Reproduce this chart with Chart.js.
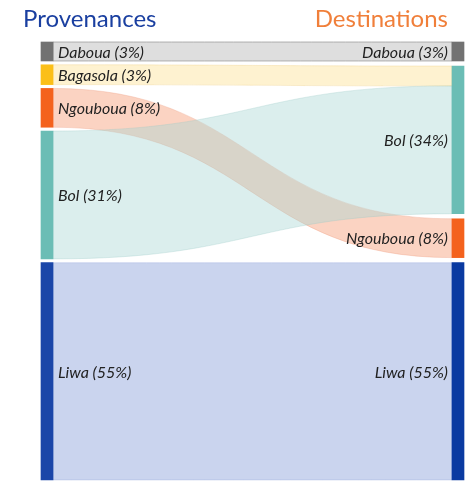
<!DOCTYPE html>
<html>
<head>
<meta charset="utf-8">
<script src="https://cdn.jsdelivr.net/npm/chart.js@4.4.1/dist/chart.umd.min.js"></script>
<style>
  html, body { margin: 0; padding: 0; background: #fff; }
  #wrap { width: 476px; height: 482px; position: relative; }
</style>
</head>
<body>
<div id="wrap"><canvas id="chart"></canvas></div>
<script>
// columns and nodes (top to bottom)
var columns = ['Provenances', 'Destinations'];
var leftNodes = ['Daboua', 'Bagasola', 'Ngouboua', 'Bol', 'Liwa'];
var leftShares = ['3%', '3%', '8%', '31%', '55%'];
var rightNodes = ['Daboua', 'Bol', 'Ngouboua', 'Liwa'];
var rightShares = ['3%', '34%', '8%', '55%'];

// flows
var flowFrom = ['Daboua', 'Bagasola', 'Ngouboua', 'Bol', 'Liwa'];
var flowTo = ['Daboua', 'Bol', 'Ngouboua', 'Bol', 'Liwa'];
var flowValues = [4.5, 4.7, 9.2, 30.3, 51.5];

var places = ['Daboua', 'Bagasola', 'Ngouboua', 'Bol', 'Liwa'];
var nodeColors = ['#727272', '#fbbf18', '#f4621d', '#6bbdb5', '#1b46a8'];
var flowColors = ['rgba(200,200,200,0.6)', 'rgba(252,226,150,0.45)', 'rgba(245,150,110,0.42)',
                  'rgba(170,215,212,0.42)', 'rgba(150,170,222,0.5)'];
var flowEdges = ['rgba(150,150,150,0.7)', 'rgba(240,210,140,0.4)', 'rgba(235,150,120,0.3)',
                 'rgba(150,200,196,0.3)', 'rgba(120,145,210,0.25)'];
var nodeGap = 0.9;

// node totals
function nodeTotal(name, side) {
  var t = 0;
  for (var i = 0; i < flowValues.length; i++) {
    if ((side == 0 ? flowFrom[i] : flowTo[i]) == name) t += flowValues[i];
  }
  return t;
}
function columnSum(list, side) {
  return list.reduce(function(s, n) { return s + nodeTotal(n, side); }, 0);
}
// both columns fill the same height, spare room goes into the gaps
var total = Math.max(columnSum(leftNodes, 0) + nodeGap * (leftNodes.length - 1),
                     columnSum(rightNodes, 1) + nodeGap * (rightNodes.length - 1));
function stackNodes(list, side) {
  var pos = {}, y = 0;
  var gap = (total - columnSum(list, side)) / (list.length - 1);
  list.forEach(function(n) {
    var v = nodeTotal(n, side);
    pos[n] = [y, y + v];
    y += v + gap;
  });
  return pos;
}
var leftPos = stackNodes(leftNodes, 0);
var rightPos = stackNodes(rightNodes, 1);

var datasets = places.map(function(p, i) {
  return {
    label: p,
    data: [leftPos[p] || null, rightPos[p] || null],
    backgroundColor: i == 4 ? ['#1b46a8', '#0a3aa1'] : nodeColors[i],
    borderWidth: 0,
    grouped: false,
    barThickness: 12,
    clip: false
  };
});

function barEl(chart, place, side) {
  return chart.getDatasetMeta(places.indexOf(place)).data[side];
}

var sankeyPlugin = {
  id: 'sankey',
  beforeDatasetsDraw: function(chart) {
    var ctx = chart.ctx, ys = chart.scales.y;
    var outUsed = {}, inUsed = {};
    ctx.save();
    for (var i = 0; i < flowValues.length; i++) {
      var a = flowFrom[i], b = flowTo[i], v = flowValues[i];
      var o0 = outUsed[a] || 0, o1 = inUsed[b] || 0;
      outUsed[a] = o0 + v; inUsed[b] = o1 + v;
      var ea = barEl(chart, a, 0), eb = barEl(chart, b, 1);
      var x0 = ea.x + ea.width / 2, x1 = eb.x - eb.width / 2, xm = (x0 + x1) / 2;
      var t0 = ys.getPixelForValue(leftPos[a][0] + o0), b0 = ys.getPixelForValue(leftPos[a][0] + o0 + v);
      var t1 = ys.getPixelForValue(rightPos[b][0] + o1), b1 = ys.getPixelForValue(rightPos[b][0] + o1 + v);
      ctx.beginPath();
      ctx.moveTo(x0, t0);
      ctx.bezierCurveTo(xm, t0, xm, t1, x1, t1);
      ctx.lineTo(x1, b1);
      ctx.bezierCurveTo(xm, b1, xm, b0, x0, b0);
      ctx.closePath();
      var k = places.indexOf(a);
      ctx.fillStyle = flowColors[k];
      ctx.fill();
      ctx.strokeStyle = flowEdges[k];
      ctx.lineWidth = 1;
      ctx.stroke();
    }
    ctx.restore();
  },
  afterDatasetsDraw: function(chart) {
    var ctx = chart.ctx;
    ctx.save();
    ctx.font = 'italic 16px Lato';
    ctx.fillStyle = '#222';
    ctx.textBaseline = 'middle';
    leftNodes.forEach(function(n, i) {
      var e = barEl(chart, n, 0);
      ctx.textAlign = 'left';
      ctx.fillText(n + ' (' + leftShares[i] + ')', e.x + e.width / 2 + 5, (e.y + e.base) / 2 + 1);
    });
    rightNodes.forEach(function(n, i) {
      var e = barEl(chart, n, 1);
      ctx.textAlign = 'right';
      ctx.fillText(n + ' (' + rightShares[i] + ')', e.x - e.width / 2 - 4, (e.y + e.base) / 2 + 1);
    });
    // column headings
    ctx.font = '24px Lato';
    ctx.textBaseline = 'alphabetic';
    ctx.textAlign = 'left';
    ctx.fillStyle = '#1a3fa0';
    ctx.fillText(chart.data.labels[0], 23, 27);
    ctx.textAlign = 'right';
    ctx.fillStyle = '#f07f3a';
    ctx.fillText(chart.data.labels[1], 448, 27);
    ctx.restore();
  }
};

new Chart(document.getElementById('chart'), {
  type: 'bar',
  data: { labels: columns, datasets: datasets },
  options: {
    responsive: true,
    maintainAspectRatio: false,
    animation: false,
    events: [],
    layout: { padding: { left: 47, right: 18, top: 42, bottom: 2 } },
    scales: {
      x: { type: 'category', offset: false, display: false },
      y: { type: 'linear', reverse: true, min: 0, max: total, display: false }
    },
    plugins: { legend: { display: false }, tooltip: { enabled: false }, title: { display: false } }
  },
  plugins: [sankeyPlugin]
});
</script>
</body>
</html>
